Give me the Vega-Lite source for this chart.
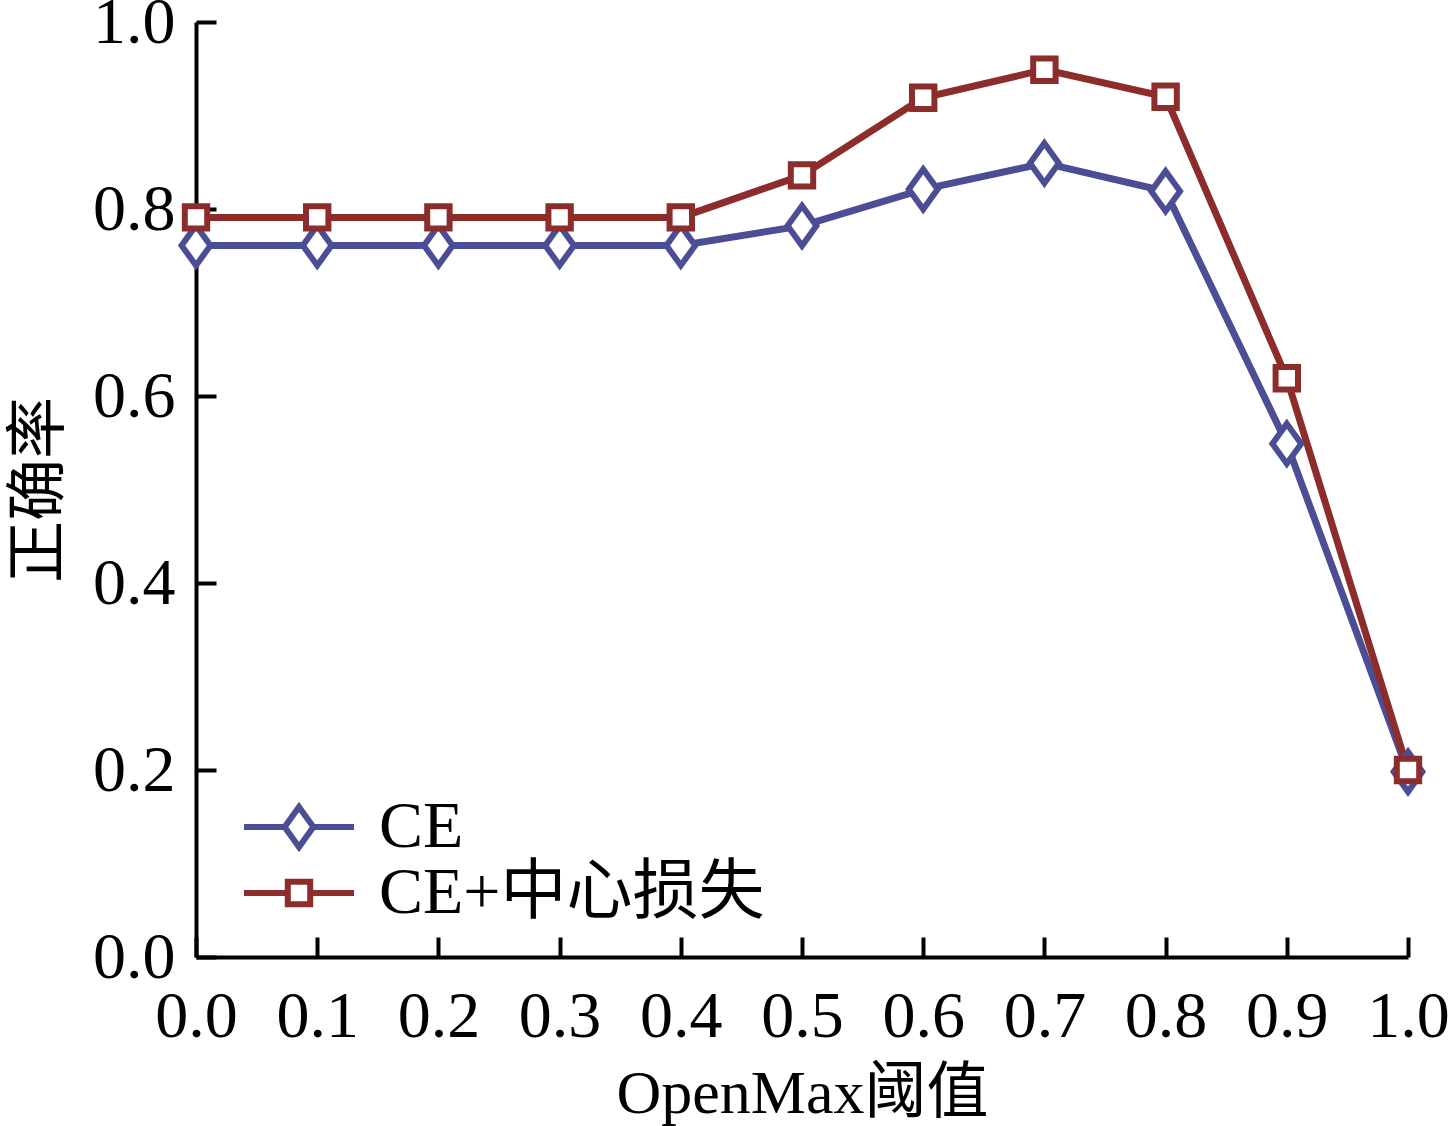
{
  "$schema": "https://vega.github.io/schema/vega-lite/v6.json",
  "width": 1212,
  "height": 935,
  "autosize": "none",
  "padding": {"left": 196, "top": 22, "right": 43, "bottom": 169},
  "background": "white",
  "config": {
    "view": {"stroke": null},
    "font": "Liberation Serif",
    "axis": {
      "domainColor": "black",
      "domainWidth": 4,
      "tickColor": "black",
      "tickWidth": 4,
      "tickSize": -20,
      "grid": false,
      "labelFont": "Liberation Serif",
      "labelFontSize": 66,
      "labelColor": "black",
      "titleFont": "Liberation Serif, Noto Sans CJK SC",
      "titleFontSize": 62,
      "titleFontWeight": "normal",
      "titleColor": "black"
    }
  },
  "data": {
    "values": [
      {"t": 0.0, "acc": 0.761, "series": "CE"},
      {"t": 0.1, "acc": 0.761, "series": "CE"},
      {"t": 0.2, "acc": 0.761, "series": "CE"},
      {"t": 0.3, "acc": 0.761, "series": "CE"},
      {"t": 0.4, "acc": 0.761, "series": "CE"},
      {"t": 0.5, "acc": 0.782, "series": "CE"},
      {"t": 0.6, "acc": 0.821, "series": "CE"},
      {"t": 0.7, "acc": 0.849, "series": "CE"},
      {"t": 0.8, "acc": 0.819, "series": "CE"},
      {"t": 0.9, "acc": 0.549, "series": "CE"},
      {"t": 1.0, "acc": 0.198, "series": "CE"},
      {"t": 0.0, "acc": 0.791, "series": "CE+中心损失"},
      {"t": 0.1, "acc": 0.791, "series": "CE+中心损失"},
      {"t": 0.2, "acc": 0.791, "series": "CE+中心损失"},
      {"t": 0.3, "acc": 0.791, "series": "CE+中心损失"},
      {"t": 0.4, "acc": 0.791, "series": "CE+中心损失"},
      {"t": 0.5, "acc": 0.836, "series": "CE+中心损失"},
      {"t": 0.6, "acc": 0.919, "series": "CE+中心损失"},
      {"t": 0.7, "acc": 0.949, "series": "CE+中心损失"},
      {"t": 0.8, "acc": 0.920, "series": "CE+中心损失"},
      {"t": 0.9, "acc": 0.619, "series": "CE+中心损失"},
      {"t": 1.0, "acc": 0.200, "series": "CE+中心损失"}
    ]
  },
  "encoding": {
    "x": {
      "field": "t",
      "type": "quantitative",
      "scale": {"domain": [0, 1], "nice": false, "zero": false},
      "axis": {
        "title": "OpenMax阈值",
        "values": [0, 0.1, 0.2, 0.3, 0.4, 0.5, 0.6, 0.7, 0.8, 0.9, 1.0],
        "format": ".1f",
        "labelPadding": 47,
        "labelFlush": false,
        "titlePadding": 14
      }
    },
    "y": {
      "field": "acc",
      "type": "quantitative",
      "scale": {"domain": [0, 1], "nice": false},
      "axis": {
        "title": "正确率",
        "values": [0, 0.2, 0.4, 0.6, 0.8, 1.0],
        "format": ".1f",
        "labelPadding": 41,
        "labelFlush": false,
        "titlePadding": 21
      }
    },
    "color": {
      "field": "series",
      "type": "nominal",
      "scale": {"domain": ["CE", "CE+中心损失"], "range": ["#4B4D95", "#8C2C2B"]},
      "legend": {
        "title": null,
        "orient": "none",
        "legendX": 70,
        "legendY": 772,
        "padding": 0,
        "rowPadding": -3,
        "symbolSize": 1600,
        "symbolStrokeWidth": 6,
        "symbolFillColor": "white",
        "labelFont": "Liberation Serif, Noto Sans CJK SC",
        "labelFontSize": 66,
        "labelColor": "black",
        "labelOffset": 47,
        "labelLimit": 0
      }
    }
  },
  "layer": [
    {
      "mark": {"type": "line", "strokeWidth": 7},
      "encoding": {}
    },
    {
      "transform": [{"filter": "datum.series === 'CE'"}],
      "mark": {"type": "point", "shape": "M0,-1L0.72,0L0,1L-0.72,0Z", "filled": false, "fill": "white", "fillOpacity": 1, "size": 1600, "strokeWidth": 6, "opacity": 1},
      "encoding": {}
    },
    {
      "transform": [{"filter": "datum.series !== 'CE'"}],
      "mark": {"type": "point", "shape": "M-0.56,-0.56H0.56V0.56H-0.56Z", "filled": false, "fill": "white", "fillOpacity": 1, "size": 1600, "strokeWidth": 6, "opacity": 1},
      "encoding": {}
    },
    {
      "transform": [{"filter": "false"}],
      "mark": {"type": "point", "filled": false, "strokeWidth": 6},
      "encoding": {
        "shape": {
          "field": "series",
          "type": "nominal",
          "scale": {"domain": ["CE", "CE+中心损失"], "range": ["M-2.75,0H-0.72M0.72,0H2.75M0,-1L0.72,0L0,1L-0.72,0Z", "M-2.75,0H-0.56M0.56,0H2.75M-0.56,-0.56H0.56V0.56H-0.56Z"]}
        }
      }
    }
  ]
}
